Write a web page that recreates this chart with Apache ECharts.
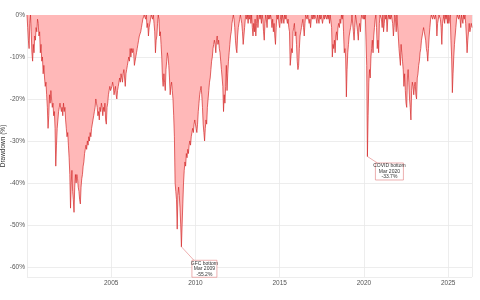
<!DOCTYPE html>
<html lang="en">
<head>
<meta charset="UTF-8">
<script src="https://cdn.jsdelivr.net/npm/echarts@6/dist/echarts.min.js"></script>
<title>Drawdown</title>
<style>
  html, body { margin: 0; padding: 0; background: #fff; }
  #chart { width: 480px; height: 300px; }
</style>
</head>
<body>
<div id="chart"></div>
<script>
// drawdown below the running peak, in %, read twice a month (1st and 15th)
const firstYear = 2000;

const dd2000s = [
  [0, -3, -6, -8, -2, 0, -4, -9, -11, -7, -9, -5, -6, -3, -4, -1, -2, -5, -4, -9, -7, -11, -10, -14],
  [-12, -15, -17, -16, -19, -22, -27, -24, -19, -21, -18, -20, -22, -21, -24, -23, -27, -36, -31, -27, -25, -23, -22, -21],
  [-21, -23, -22, -24, -21, -23, -22, -25, -27, -29, -28, -31, -34, -38, -46, -40, -37, -42, -44, -47, -41, -38, -40, -38],
  [-39, -41, -42, -44, -45, -41, -39, -38, -36, -35, -33, -32, -31, -32, -30, -31, -29, -30, -28, -29, -27, -26, -25, -24],
  [-23, -22, -20, -21, -22, -24, -23, -25, -22, -23, -21, -22, -24, -22, -23, -21, -25, -26, -22, -21, -19, -18, -17, -18],
  [-18, -17, -16, -17, -19, -18, -17, -19, -20, -18, -17, -16, -15, -16, -14, -15, -16, -14, -13, -15, -17, -14, -13, -12],
  [-11, -10, -11, -8, -10, -8, -9, -8, -9, -12, -11, -10, -9, -8, -7, -6, -5, -5, -4, -3, -2, -1, -1, 0],
  [0, -1, 0, -3, -2, -5, -3, -2, -1, 0, 0, -1, 0, -2, -4, -9, -6, -5, -2, 0, -1, -5, -4, -7],
  [-10, -15, -17, -14, -16, -18, -13, -11, -9, -10, -12, -15, -19, -17, -16, -18, -20, -24, -29, -40, -42, -44, -51, -43],
  [-41, -43, -46, -50, -55.2, -50, -45, -40, -37, -35, -36, -33, -34, -32, -33, -31, -30, -31, -29, -28, -27, -28, -26, -25]
];

const dd2010s = [
  [-25, -27, -28, -26, -23, -21, -19, -18, -17, -19, -22, -26, -28, -30, -27, -25, -26, -22, -20, -18, -16, -15, -13, -11],
  [-10, -8, -7, -6, -7, -9, -6, -5, -7, -6, -8, -9, -11, -13, -15, -17, -23, -19, -21, -17, -12, -18, -14, -11],
  [-9, -7, -5, -4, -2, -1, 0, -1, -3, -6, -8, -9, -5, -3, -2, -1, 0, -1, -2, -4, -7, -5, -3, -1],
  [0, -1, 0, -2, 0, -1, 0, -2, 0, -3, -5, -2, -4, -1, -5, -2, 0, -3, -1, 0, -1, 0, -2, 0],
  [-1, -4, -6, -2, 0, -1, -3, 0, -1, 0, -1, 0, -1, -3, -1, -4, -2, -5, -7, -3, 0, -1, 0, -2],
  [-3, -1, 0, -2, 0, -1, -2, 0, -1, 0, -1, -2, -1, -3, -4, -12, -10, -8, -9, -4, -3, -2, -5, -4],
  [-7, -11, -13, -12, -8, -5, -4, -3, -2, -1, -3, -5, -2, 0, 0, -1, 0, -1, -2, -1, -3, -1, 0, -1],
  [0, -1, 0, 0, -1, -2, 0, -1, -2, 0, -1, 0, -1, -2, -1, 0, -1, 0, 0, -1, 0, -1, 0, -2],
  [0, 0, -3, -10, -7, -8, -6, -9, -5, -4, -6, -3, -2, -3, -1, -2, 0, -1, 0, -4, -9, -8, -10, -19.5],
  [-13, -9, -7, -5, -4, -3, -2, 0, 0, -4, -6, -3, 0, -1, -1, -4, -6, -3, -2, -4, -1, 0, 0, -1]
];

const dd2020s = [
  [0, -1, 0, 0, -12, -33.7, -24, -16, -13, -15, -10, -8, -6, -9, -5, -3, -1, 0, -3, -8, -6, -9, -2, 0],
  [0, -1, -3, 0, -4, -2, 0, -1, 0, -4, -1, 0, -1, 0, -1, 0, 0, -2, -5, -3, 0, -1, -4, 0],
  [0, -5, -8, -10, -12, -7, -9, -11, -13, -17, -14, -18, -21, -22, -15, -13, -16, -20, -22, -25, -18, -16, -17, -19],
  [-17, -16, -19, -20, -15, -14, -12, -11, -9, -8, -6, -5, -4, -3, -4, -5, -6, -8, -9, -11, -8, -5, -3, -1],
  [0, 0, -1, 0, 0, -1, 0, -1, -5, -2, -1, 0, 0, -1, -3, -7, -2, -1, 0, -2, 0, -1, 0, -2],
  [0, -2, -1, 0, -6, -10, -18.5, -14, -10, -7, -5, -3, -1, 0, 0, -1, 0, -1, -3, 0, -1, -2, 0, -1],
  [0, -2, -5, -9, -6, -4, -2, -4, -3, -2, -3]
];

const monthNames = ['Jan', 'Feb', 'Mar', 'Apr', 'May', 'Jun', 'Jul', 'Aug', 'Sep', 'Oct', 'Nov', 'Dec'];

// crashes to label: searched between these years, box offset from the low point
const annotations = [
  { name: 'GFC bottom', from: 2008, to: 2010, dx: 23, dy: 22, w: 25, h: 17 },
  { name: 'COVID bottom', from: 2020, to: 2021, dx: 22, dy: 15, w: 28, h: 17 }
];

const rows = [...dd2000s, ...dd2010s, ...dd2020s];
const points = [];
rows.forEach((row, y) => {
  row.forEach((v, i) => points.push([firstYear + y + i / 24, v]));
});
const lastX = points[points.length - 1][0];

annotations.forEach(a => {
  let best = null;
  points.forEach(p => {
    if (p[0] >= a.from && p[0] < a.to && (!best || p[1] < best[1])) best = p;
  });
  a.point = best;
  const yr = Math.floor(best[0] + 1e-9);
  const month = Math.floor((best[0] - yr) * 12 + 1e-9);
  a.text = a.name + '\n' + monthNames[month] + ' ' + yr + '\n' + best[1].toFixed(1) + '%';
});

const chart = echarts.init(document.getElementById('chart'), null, { renderer: 'canvas' });

const gridColor = '#e8e8e8';
const labelColor = '#555';

chart.setOption({
  animation: false,
  grid: { left: 27, right: 8, top: 15, bottom: 23, containLabel: false, outerBoundsMode: 'none' },
  xAxis: {
    type: 'value',
    min: firstYear,
    max: lastX,
    interval: 5,
    axisLine: { lineStyle: { color: gridColor } },
    axisTick: { show: false },
    axisLabel: {
      color: labelColor,
      fontSize: 6.5,
      margin: 3,
      showMinLabel: false,
      showMaxLabel: false,
      formatter: v => String(Math.round(v))
    },
    splitLine: { show: true, lineStyle: { color: gridColor, width: 0.8 } }
  },
  yAxis: {
    type: 'value',
    min: -62.4,
    max: 0,
    name: 'Drawdown (%)',
    nameLocation: 'middle',
    nameGap: 20,
    nameMoveOverlap: false,
    nameTextStyle: { color: '#333', fontSize: 6.5 },
    axisLine: { show: false },
    axisTick: { show: false },
    axisLabel: {
      color: labelColor,
      fontSize: 6.5,
      margin: 2,
      showMinLabel: false,
      formatter: v => v + '%'
    },
    splitLine: { lineStyle: { color: gridColor, width: 0.8 } }
  },
  series: [{
    type: 'line',
    data: points,
    symbol: 'none',
    lineStyle: { color: '#d42a2a', width: 0.7 },
    areaStyle: { color: '#ffb8b8', opacity: 1 }
  }]
});

// callout boxes for the two big lows
const edge = '#e07a7a';
const graphics = [];
annotations.forEach(a => {
  const p = chart.convertToPixel({ gridIndex: 0 }, a.point);
  const cx = p[0] + a.dx;
  const cy = p[1] + a.dy;
  const left = cx - a.w / 2;
  const top = cy - a.h / 2;
  graphics.push({
    type: 'line',
    silent: true,
    shape: { x1: p[0], y1: p[1], x2: left + 2, y2: top },
    style: { stroke: edge, lineWidth: 0.6 }
  });
  graphics.push({
    type: 'rect',
    silent: true,
    shape: { x: left, y: top, width: a.w, height: a.h },
    style: { fill: '#fff', stroke: edge, lineWidth: 0.6 }
  });
  graphics.push({
    type: 'text',
    silent: true,
    x: cx,
    y: cy,
    style: {
      text: a.text,
      align: 'center',
      verticalAlign: 'middle',
      fontSize: 5,
      lineHeight: 5.5,
      fill: '#333'
    }
  });
});
chart.setOption({ graphic: graphics });
</script>
</body>
</html>
